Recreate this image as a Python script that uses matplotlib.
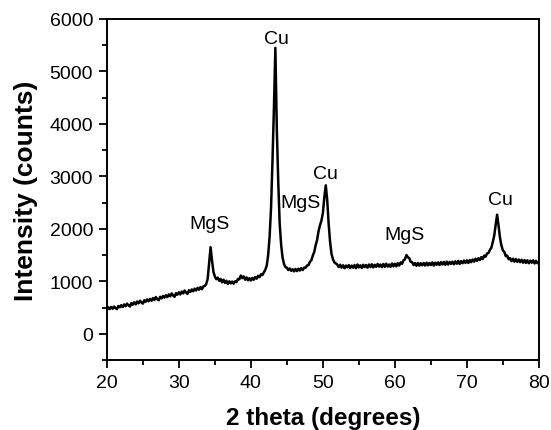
import numpy as np
import matplotlib
matplotlib.use('Agg')
import matplotlib.pyplot as plt
from matplotlib.ticker import MultipleLocator

plt.rcParams['font.family'] = ['Liberation Sans', 'DejaVu Sans']

# XRD pattern, one value every 0.2 degrees from 20 to 80
two_theta = np.round(np.arange(20.0, 80.01, 0.2), 1)
intensity = [
    455, 505, 470, 510, 478, 520, 490, 470, 530, 505,            # 20.0 - 21.8
    545, 510, 560, 525, 575, 540, 520, 585, 555, 600,            # 22
    560, 615, 580, 630, 595, 575, 640, 610, 655, 620,            # 24
    665, 630, 680, 645, 700, 660, 640, 705, 675, 720,            # 26
    690, 735, 700, 750, 715, 770, 730, 705, 775, 745,            # 28
    790, 750, 805, 770, 825, 785, 760, 830, 800, 845,            # 30
    810, 860, 825, 875, 840, 890, 850, 905, 910, 950,            # 32
    1050, 1350, 1650, 1400, 1180, 1090, 1040, 1070, 1010, 1045,  # 34
    980, 1030, 970, 1010, 950, 1000, 960, 995, 955, 1000,        # 36
    985, 1045, 1040, 1110, 1060, 1095, 1030, 1075, 1020, 1060,   # 38
    1015, 1065, 1030, 1080, 1050, 1105, 1080, 1135, 1120, 1170,  # 40
    1220, 1300, 1500, 1850, 2400, 3300, 4300, 5450, 3900, 2900,  # 42
    2100, 1700, 1450, 1330, 1270, 1260, 1215, 1245, 1200, 1230,  # 44
    1190, 1235, 1195, 1240, 1205, 1250, 1215, 1260, 1260, 1300,  # 46
    1310, 1370, 1400, 1490, 1560, 1690, 1790, 1960, 2070, 2160,  # 48
    2300, 2600, 2830, 2550, 2100, 1750, 1520, 1420, 1360, 1340,  # 50
    1320, 1270, 1315, 1260, 1305, 1250, 1300, 1265, 1310, 1255,  # 52
    1300, 1260, 1310, 1250, 1320, 1265, 1305, 1255, 1315, 1270,  # 54
    1310, 1260, 1320, 1270, 1325, 1265, 1315, 1275, 1330, 1280,  # 56
    1320, 1270, 1330, 1275, 1335, 1280, 1320, 1275, 1340, 1285,  # 58
    1335, 1285, 1345, 1300, 1360, 1335, 1400, 1420, 1500, 1460,  # 60
    1440, 1370, 1365, 1310, 1345, 1295, 1350, 1300, 1345, 1305,  # 62
    1350, 1300, 1355, 1305, 1350, 1310, 1360, 1300, 1355, 1315,  # 64
    1360, 1310, 1365, 1320, 1370, 1315, 1375, 1320, 1370, 1330,  # 66
    1375, 1325, 1380, 1335, 1390, 1330, 1385, 1345, 1395, 1350,  # 68
    1400, 1350, 1405, 1365, 1415, 1375, 1430, 1390, 1440, 1405,  # 70
    1460, 1425, 1490, 1470, 1530, 1540, 1600, 1640, 1750, 1870,  # 72
    2080, 2270, 2060, 1830, 1680, 1590, 1560, 1480, 1490, 1420,  # 74
    1440, 1385, 1430, 1375, 1425, 1370, 1415, 1365, 1410, 1355,  # 76
    1405, 1350, 1400, 1345, 1395, 1355, 1400, 1340, 1390, 1345,  # 78
    1370,                                                        # 80
]

# peak labels (text, x, y)
peak_labels = ['Cu', 'Cu', 'MgS', 'MgS', 'MgS', 'Cu']
label_x = [43.5, 50.4, 46.9, 34.2, 61.4, 74.6]
label_y = [5635, 3058, 2500, 2096, 1885, 2558]

fig = plt.figure(figsize=(5.51, 4.31), dpi=100)
ax = fig.add_axes([0.194, 0.1624, 0.784, 0.7912])

ax.plot(two_theta, intensity, color='black', linewidth=1.8)

for lbl, lx, ly in zip(peak_labels, label_x, label_y):
    ax.text(lx, ly, lbl, ha='center', va='center', fontsize=14)

ax.set_xlim(20, 80)
ax.set_ylim(-500, 6000)
ax.xaxis.set_major_locator(MultipleLocator(10))
ax.xaxis.set_minor_locator(MultipleLocator(5))
ax.yaxis.set_major_locator(MultipleLocator(1000))
ax.yaxis.set_minor_locator(MultipleLocator(500))
ax.tick_params(which='major', direction='out', length=6, width=1.3, labelsize=14, pad=4)
ax.tick_params(which='minor', direction='out', length=3.5, width=1.3)
for sp in ax.spines.values():
    sp.set_linewidth(1.4)

ax.set_xlabel('2 theta (degrees)', fontsize=17.5, fontweight='bold', labelpad=11)
ax.set_ylabel('Intensity (counts)', fontsize=19, fontweight='bold', labelpad=8)

fig.savefig('out.png', dpi=100)
